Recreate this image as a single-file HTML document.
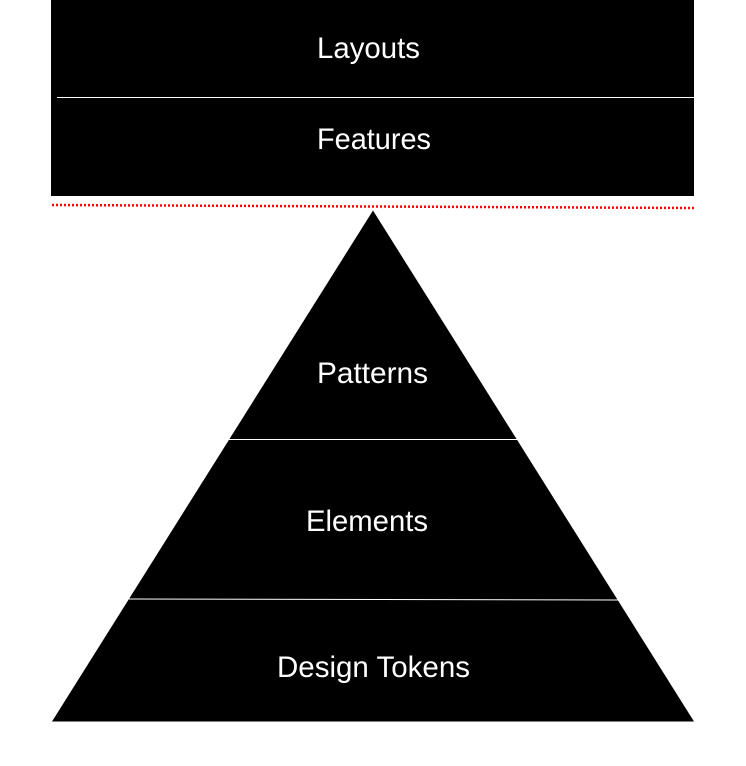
<!DOCTYPE html>
<html>
<head>
<meta charset="utf-8">
<style>
html,body{margin:0;padding:0;background:#fff;width:746px;height:766px;overflow:hidden}
svg{display:block}
text{font-family:"Liberation Sans",sans-serif;font-size:30px;fill:#fff}
</style>
</head>
<body>
<svg width="746" height="766" viewBox="0 0 746 766" xmlns="http://www.w3.org/2000/svg">
<rect x="51" y="0" width="643" height="196" fill="#000"/>
<line x1="57" y1="97.5" x2="694" y2="97.5" stroke="#fff" stroke-width="1"/>
<line x1="52" y1="205" x2="694" y2="208" stroke="#f00" stroke-width="2.5" stroke-dasharray="2 2"/>
<polygon points="373,210.5 694,721.5 52,721.5" fill="#000"/>
<line x1="229" y1="439.5" x2="517" y2="439.5" stroke="#fff" stroke-width="1"/>
<line x1="129" y1="599" x2="618" y2="600" stroke="#fff" stroke-width="1"/>
<text x="317" y="58" textLength="103" lengthAdjust="spacingAndGlyphs">Layouts</text>
<text x="317" y="149" textLength="114" lengthAdjust="spacingAndGlyphs">Features</text>
<text x="317" y="383" textLength="111" lengthAdjust="spacingAndGlyphs">Patterns</text>
<text x="306" y="531" textLength="122" lengthAdjust="spacingAndGlyphs">Elements</text>
<text x="277" y="677" textLength="193" lengthAdjust="spacingAndGlyphs">Design Tokens</text>
</svg>
</body>
</html>
